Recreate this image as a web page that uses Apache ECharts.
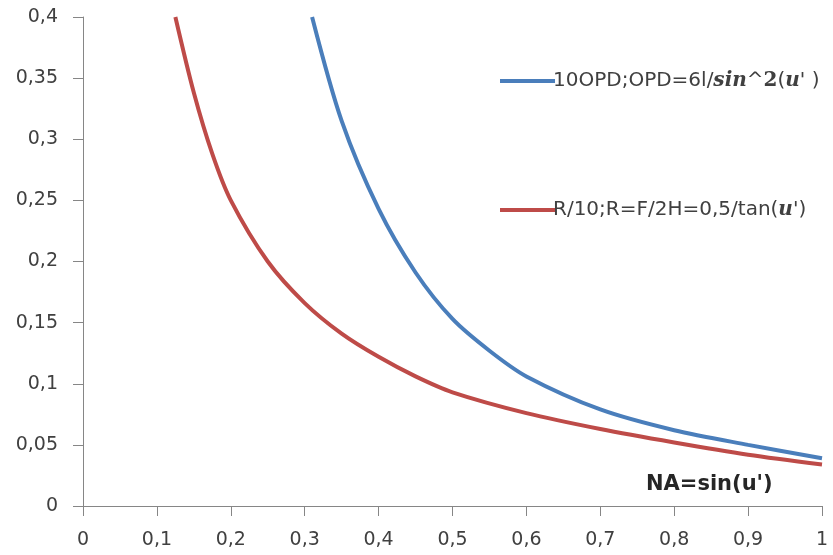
<!DOCTYPE html>
<html>
<head>
<meta charset="utf-8">
<script src="https://cdn.jsdelivr.net/npm/echarts@6/dist/echarts.min.js"></script>
<style>
  html, body { margin: 0; padding: 0; background: #fff; }
  #chart { width: 833px; height: 555px; }
</style>
</head>
<body>
<div id="chart"></div>
<script>
// values (x = NA = sin(u'))
const opdX = [0.31, 0.35, 0.4, 0.45, 0.5, 0.55, 0.6, 0.7, 0.8, 0.9, 1.0]
const opdY = [0.40, 0.315, 0.243, 0.191, 0.153, 0.127, 0.106, 0.079, 0.062, 0.050, 0.039]

const rX = [0.125, 0.15, 0.175, 0.2, 0.25, 0.3, 0.35, 0.4, 0.45, 0.5, 0.6, 0.7, 0.8, 0.9, 1.0]
const rY = [0.40, 0.338, 0.288, 0.25, 0.20, 0.166, 0.141, 0.122, 0.106, 0.093, 0.076, 0.063, 0.052, 0.042, 0.034]

const seriesNames = ['opd', 'r']
const labelFont = 'DejaVu Sans'

const myChart = echarts.init(document.getElementById('chart'))

const richStyles = {
    n: { fontFamily: labelFont, fontSize: 20, color: '#404040' },
    m: { fontFamily: 'DejaVu Serif', fontSize: 20, fontStyle: 'italic', fontWeight: 'bold', color: '#404040' },
    k: { fontFamily: 'DejaVu Serif', fontSize: 20, fontWeight: 'bold', color: '#404040' }
}

function legendText(name) {
    if (name === 'opd') {
        return '{n|10OPD;OPD=6l/}{m|sin}{n|^}{k|2}{n|(}{m|u}{n|\' )}'
    }
    return '{n|R/10;R=F/2H=0,5/tan(}{m|u}{n|\')}'
}

const option = {
    animation: false,
    grid: {
        left: 83,
        right: 11,
        top: 17,
        bottom: 49
    },
    legend: [
        {
            data: ['opd'],
            left: 495,
            top: 66,
            icon: 'rect',
            itemWidth: 55,
            itemHeight: 4,
            formatter: legendText,
            textStyle: { rich: richStyles, padding: [0, 0, 0, -7] }
        },
        {
            data: ['r'],
            left: 495,
            top: 195,
            icon: 'rect',
            itemWidth: 55,
            itemHeight: 4,
            formatter: legendText,
            textStyle: { rich: richStyles, padding: [0, 0, 0, -7] }
        }
    ],
    xAxis: {
        type: 'value',
        min: 0,
        max: 1,
        interval: 0.1,
        splitLine: { show: false },
        axisLine: { lineStyle: { color: '#868686', width: 1 } },
        axisTick: { show: true, length: 10, lineStyle: { color: '#868686' } },
        axisLabel: {
            fontFamily: labelFont,
            fontSize: 19,
            color: '#404040',
            margin: 25,
            formatter: val => String(Math.round(val * 10) / 10).replace('.', ',')
        }
    },
    yAxis: {
        type: 'value',
        min: 0,
        max: 0.4,
        interval: 0.05,
        splitLine: { show: false },
        axisLine: { show: true, lineStyle: { color: '#868686', width: 1 } },
        axisTick: { show: true, length: 10, lineStyle: { color: '#868686' } },
        axisLabel: {
            fontFamily: labelFont,
            fontSize: 19,
            color: '#404040',
            margin: 25,
            formatter: val => String(Math.round(val * 100) / 100).replace('.', ',')
        }
    },
    graphic: [
        {
            type: 'text',
            left: 646,
            top: 474,
            style: {
                text: "NA=sin(u')",
                fontFamily: labelFont,
                fontSize: 21,
                fontWeight: 'bold',
                fill: '#262626'
            }
        }
    ],
    series: [
        {
            name: seriesNames[0],
            type: 'line',
            smooth: 0.3,
            showSymbol: false,
            lineStyle: { color: '#4A7EBB', width: 4 },
            itemStyle: { color: '#4A7EBB' },
            data: opdX.map((x, i) => [x, opdY[i]])
        },
        {
            name: seriesNames[1],
            type: 'line',
            smooth: 0.3,
            showSymbol: false,
            lineStyle: { color: '#BE4B48', width: 4 },
            itemStyle: { color: '#BE4B48' },
            data: rX.map((x, i) => [x, rY[i]])
        }
    ]
}

myChart.setOption(option)
</script>
</body>
</html>
